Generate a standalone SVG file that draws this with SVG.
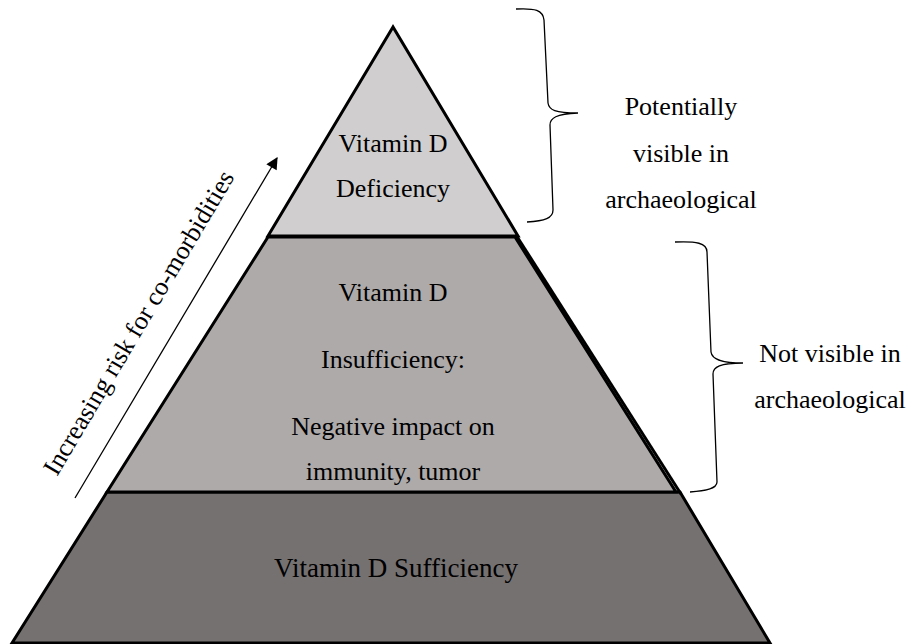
<svg xmlns="http://www.w3.org/2000/svg" width="910" height="644" viewBox="0 0 910 644">
<defs>
<style>
.t{font-family:'Liberation Serif','Times New Roman',Times,serif;font-size:26px;fill:#000;text-anchor:middle}
.tier{stroke:#000;stroke-width:3;stroke-linejoin:miter}
.brace{fill:none;stroke:#000;stroke-width:1.3}
</style>
<marker id="ah" viewBox="0 0 10 10" refX="9" refY="5" markerWidth="14" markerHeight="12" markerUnits="userSpaceOnUse" orient="auto"><path d="M0,0 L10,5 L0,10 z" fill="#000"/></marker>
</defs>
<rect width="910" height="644" fill="#fff"/>
<g id="sufficiency">
<polygon class="tier" points="107,492 680,492 770,643 12,643" fill="#767171"/>
<text class="t" x="396" y="577" style="font-size:27px">Vitamin D Sufficiency</text>
</g>
<g id="insufficiency">
<polygon class="tier" points="268,237 515,237 676,492 107,492" fill="#aeaaaa"/>
<text class="t" x="393" y="301">Vitamin D</text>
<text class="t" x="393" y="368">Insufficiency:</text>
<text class="t" x="393" y="435">Negative impact on</text>
<text class="t" x="393" y="480">immunity, tumor</text>
</g>
<g id="deficiency">
<polygon class="tier" points="393,27 268,236 518,236" fill="#d0cece"/>
<text class="t" x="393" y="152">Vitamin D</text>
<text class="t" x="393" y="197">Deficiency</text>
</g>
<g id="outline">
<line class="tier" x1="516" y1="235" x2="681" y2="494"/>
</g>
<g id="connectors">
<line x1="75" y1="498" x2="277" y2="158" stroke="#000" stroke-width="1.3" marker-end="url(#ah)"/>
<path class="brace" d="M516,9 C535,8 543,10 544,20 L548,103 C549,110 555,113 578,113 C556,114 550,118 550,125 L553,210 C553,218 545,221 527,222"/>
<path class="brace" d="M675,242 C696,241 707,243 707,252 L711,352 C712,359 720,363 743,363 C720,363 713,367 713,374 L717,482 C717,489 705,491 690,492"/>
</g>
<g id="risk-label">
<text class="t" style="text-anchor:start" transform="translate(57,477) rotate(-59.3)">Increasing risk for co-morbidities</text>
</g>
<g id="label-visible">
<text class="t" x="681" y="115">Potentially</text>
<text class="t" x="681" y="162">visible in</text>
<text class="t" x="681" y="208">archaeological</text>
</g>
<g id="label-not-visible">
<text class="t" x="830" y="362">Not visible in</text>
<text class="t" x="830" y="408">archaeological</text>
</g>
</svg>
